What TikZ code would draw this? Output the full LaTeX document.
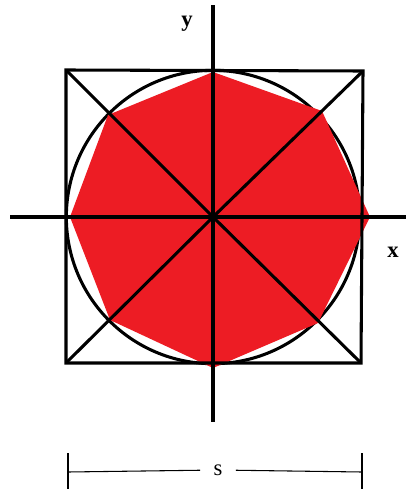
\documentclass[tikz,border=0pt]{standalone}
\usepackage{fontspec}
\setmainfont{Liberation Serif}
\definecolor{paintred}{HTML}{ED1C24}

\begin{document}
\begin{tikzpicture}[x=0.75pt,y=-0.75pt,line width=2.3pt,font=\fontsize{17}{17}\selectfont]
\useasboundingbox (0,0) rectangle (406,489);
\coordinate (O) at (213,217);
\coordinate (tl) at (66,70);
\coordinate (tr) at (363,71);
\coordinate (br) at (361,363);
\coordinate (bl) at (66,363);
\draw (O) circle [radius=110pt];
\fill[paintred] (213,72) -- (322,111) -- (370,217) -- (318,323) -- (213,368) -- (110,320) -- (70,217) -- (108,115) -- cycle;
\draw (tl) -- (tr) -- (br) -- (bl) -- cycle;
\draw (tl) -- (O) -- (br);
\draw (tr) -- (O) -- (bl);
\coordinate (xa) at (10,217);
\coordinate (xb) at (406,217);
\coordinate (ya) at (213,5);
\coordinate (yb) at (213,422);
\draw (xa) -- (xb);
\draw (ya) -- (yb);
\node[font=\fontsize{17}{17}\selectfont\bfseries] (ylab) at (187,24) {y};
\node[font=\fontsize{17}{17}\selectfont\bfseries] (xlab) at (393,252) {x};
\coordinate (sL) at (68,472);
\coordinate (sR) at (362,472);
\node[inner xsep=9pt] (s) at (218,470) {s};
\draw[line width=0.8pt] (sL) -- (s);
\draw[line width=0.8pt] (s) -- (sR);
\draw[line width=0.8pt] (68,453) -- (68,489);
\draw[line width=0.8pt] (362,453) -- (362,489);
\end{tikzpicture}
\end{document}
